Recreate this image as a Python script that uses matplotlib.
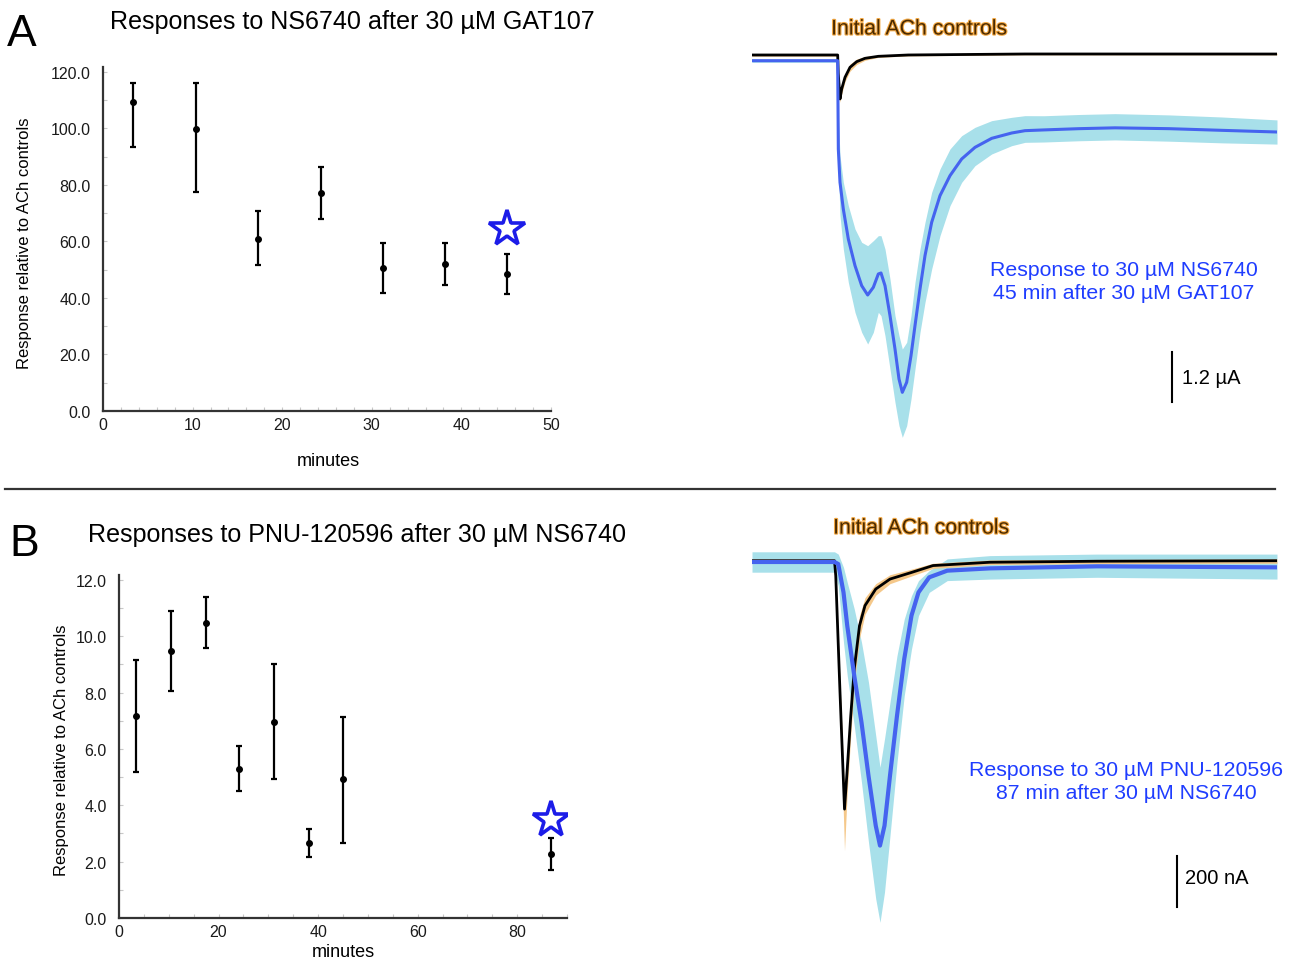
import matplotlib.pyplot as plt
import matplotlib.patheffects as pe
from matplotlib.lines import Line2D
from matplotlib.ticker import MultipleLocator, FormatStrFormatter

plt.rcParams['font.family'] = ['Liberation Sans', 'DejaVu Sans']

W, H = 1297, 962

# ---------- panel A: NS6740 after GAT107 ----------
a_minutes = [3.4, 10.4, 17.3, 24.3, 31.2, 38.2, 45.1]
a_mean = [109.2, 99.8, 61.0, 77.2, 50.7, 52.0, 48.6]
a_hi = [116.2, 116.2, 70.8, 86.4, 59.6, 59.3, 55.7]
a_lo = [93.4, 77.6, 51.5, 67.8, 41.6, 44.4, 41.5]
a_star = (45.1, 64.4)

# traces (time in s, current in uA)
a_ach_t = [0, 34.27, 34.5, 35.2, 35.87, 37.2, 39.2, 41.87, 45.2, 50.5, 62.5, 109.2, 210]
a_ach_i = [0.137, 0.137, -0.30, -0.918, -0.679, -0.399, -0.159, -0.023, 0.057, 0.105, 0.137, 0.161, 0.16]
a_ach_lo = [0.11, 0.11, -0.35, -1.00, -0.80, -0.50, -0.25, -0.09, 0.01, 0.08, 0.115, 0.14, 0.14]
a_ach_hi = [0.165, 0.165, -0.25, -0.84, -0.58, -0.31, -0.08, 0.04, 0.10, 0.13, 0.16, 0.18, 0.18]

a_ns_t = [0, 34.27, 34.53, 35.2, 36.53, 38.53, 41.2, 43.87, 46.27, 48.53, 50.53, 51.6, 53.2, 55.2,
          57.2, 58.8, 60.13, 61.87, 63.6, 65.2, 67.2, 69.2, 71.87, 75.2, 79.2, 83.87, 89.2, 95.87,
          103.87, 109.2, 116.8, 130.8, 145.2, 166.8, 188.0, 210.0]
a_ns_i = [0.0, 0.0, -2.117, -2.917, -3.56, -4.276, -4.915, -5.395, -5.619, -5.435, -5.115, -5.091,
          -5.395, -6.114, -6.914, -7.633, -7.953, -7.713, -7.074, -6.354, -5.475, -4.675, -3.876,
          -3.236, -2.757, -2.357, -2.078, -1.862, -1.734, -1.678, -1.66, -1.63, -1.61, -1.63, -1.67, -1.71]
a_ns_hi = [0.041, 0.041, -1.318, -2.277, -2.917, -3.476, -4.036, -4.356, -4.436, -4.316, -4.196, -4.196,
           -4.516, -5.235, -6.114, -6.594, -6.914, -6.754, -6.114, -5.315, -4.516, -3.876, -3.156,
           -2.597, -2.117, -1.798, -1.598, -1.438, -1.358, -1.318, -1.32, -1.29, -1.27, -1.30, -1.35, -1.42]
a_ns_lo = [-0.039, -0.039, -2.517, -3.716, -4.516, -5.315, -6.035, -6.514, -6.794, -6.514, -6.035, -6.114,
           -6.594, -7.393, -8.193, -8.752, -9.032, -8.752, -8.113, -7.393, -6.514, -5.795, -4.995,
           -4.196, -3.476, -2.917, -2.517, -2.237, -2.038, -1.958, -1.95, -1.92, -1.90, -1.93, -1.97, -2.00]

# ---------- panel B: PNU-120596 after NS6740 ----------
b_minutes = [3.4, 10.5, 17.4, 24.2, 31.2, 38.2, 45.1, 86.8]
b_mean = [7.16, 9.47, 10.48, 5.30, 6.96, 2.66, 4.94, 2.26]
b_hi = [9.14, 10.88, 11.38, 6.10, 9.00, 3.17, 7.14, 2.84]
b_lo = [5.17, 8.07, 9.59, 4.50, 4.93, 2.17, 2.67, 1.70]
b_star = (86.8, 3.47)

# traces (time in s, current in nA)
b_ach_t = [0, 33.0, 33.5, 35.2, 37.0, 38.1, 39.5, 40.9, 43.0, 45.2, 49.5, 55.2, 63.8, 72.4, 95.2, 138, 210]
b_ach_i = [5, 5, -54, -511, -969, -812, -603, -420, -250, -171, -106, -67, -41, -14, -1, 3, 5]
b_ach_lo = [-5, -5, -70, -560, -1132, -900, -680, -480, -300, -205, -130, -85, -55, -25, -10, -6, -5]
b_ach_hi = [12, 12, -40, -470, -900, -740, -540, -370, -210, -140, -85, -50, -28, -5, 8, 10, 12]

b_pnu_t = [0, 33.0, 34.5, 36.6, 38.1, 40.9, 43.8, 46.6, 49.5, 51.2, 53.0, 55.2, 58.0, 60.9, 63.8,
           66.6, 70.9, 78.1, 95.2, 138.0, 210.0]
b_pnu_i = [0, 0, -8, -119, -250, -446, -629, -838, -1034, -1112, -1034, -838, -603, -380, -210,
           -119, -60, -34, -25, -17, -21]
b_pnu_hi = [40, 40, 31, -21, -80, -184, -315, -472, -681, -805, -694, -550, -367, -224, -132,
            -73, -34, 12, 25, 31, 31]
b_pnu_lo = [-40, -40, -93, -315, -446, -642, -864, -1099, -1321, -1413, -1295, -1073, -786, -524, -341,
            -210, -119, -73, -67, -60, -67]

BAND_BLUE = '#a8e0ea'
LINE_BLUE = '#4563ef'
ORANGE = '#f5c88a'
TEXT_BLUE = '#1f3dff'
STAR_BLUE = '#1c1ce8'


def box(x0, y0, x1, y1):
    # pixel box (origin top-left) -> figure rect
    return [x0 / W, 1 - y1 / H, (x1 - x0) / W, (y1 - y0) / H]


def scatter_panel(ax, x, m, lo, hi, star, xlim, ylim, xmaj, xmin, ymaj, ymin):
    yerr = [[a - b for a, b in zip(m, lo)], [b - a for a, b in zip(m, hi)]]
    ax.errorbar(x, m, yerr=yerr, fmt='o', color='black', ms=4,
                elinewidth=1.6, capsize=2.5, capthick=1.6)
    ax.plot([star[0]], [star[1]], marker='*', ms=27, mfc='white',
            mec=STAR_BLUE, mew=2.6, linestyle='none')
    ax.set_xlim(*xlim)
    ax.set_ylim(*ylim)
    ax.xaxis.set_major_locator(MultipleLocator(xmaj))
    ax.xaxis.set_minor_locator(MultipleLocator(xmin))
    ax.yaxis.set_major_locator(MultipleLocator(ymaj))
    ax.yaxis.set_minor_locator(MultipleLocator(ymin))
    ax.yaxis.set_major_formatter(FormatStrFormatter('%.1f'))
    for s in ['top', 'right']:
        ax.spines[s].set_visible(False)
    for s in ['left', 'bottom']:
        ax.spines[s].set_color('#333333')
        ax.spines[s].set_linewidth(1.6)
    ax.tick_params(which='both', direction='in', length=3, width=0.8,
                   color='#c8c8c8', labelcolor='#1a1a1a', labelsize=11.5)
    ax.tick_params(axis='y', pad=9)
    ax.tick_params(axis='x', pad=4)


def trace_panel(ax, ach_t, ach_i, ach_lo, ach_hi, drug_t, drug_i, drug_lo, drug_hi, lw_drug):
    ax.fill_between(drug_t, drug_lo, drug_hi, color=BAND_BLUE, lw=0, zorder=1)
    ax.fill_between(ach_t, ach_lo, ach_hi, color=ORANGE, lw=0, zorder=2)
    ax.plot(ach_t, ach_i, color='black', lw=2, zorder=3)
    ax.plot(drug_t, drug_i, color=LINE_BLUE, lw=lw_drug, zorder=4)
    ax.set_xlim(0, 210)
    ax.axis('off')


ach_glow = [pe.withStroke(linewidth=1.6, foreground='#f2a844')]

fig = plt.figure(figsize=(W / 100, H / 100), dpi=100)

# ---- A ----
axA = fig.add_axes(box(103, 68, 551, 412))
scatter_panel(axA, a_minutes, a_mean, a_lo, a_hi, a_star, (0, 50), (0, 121.7), 10, 2, 20, 10)
fig.text(7 / W, 1 - 35 / H, 'A', fontsize=32, va='center', ha='left')
fig.text(110 / W, 1 - 22 / H, 'Responses to NS6740 after 30 µM GAT107', fontsize=18.1, va='center', ha='left')
fig.text(25 / W, 1 - 243 / H, 'Response relative to ACh controls', fontsize=12, rotation=90,
         va='center', ha='center')
fig.text(328 / W, 1 - 462 / H, 'minutes', fontsize=13, va='center', ha='center')

trA = fig.add_axes(box(752, 20, 1277, 450))
trace_panel(trA, a_ach_t, a_ach_i, a_ach_lo, a_ach_hi, a_ns_t, a_ns_i, a_ns_lo, a_ns_hi, 2.2)
trA.set_ylim(-9.312, 1.0)
trA.plot([168, 168], [-6.985, -8.185], color='black', lw=1.5)
trA.text(172, -7.59, '1.2 µA', fontsize=14.5, va='center', ha='left')
trA.text(66.8, 0.76, 'Initial ACh controls', fontsize=15.3, color='#4a2a00', ha='center', va='center',
         path_effects=ach_glow)
trA.text(148.8, -5.283, 'Response to 30 µM NS6740\n45 min after 30 µM GAT107', fontsize=15.3,
         color=TEXT_BLUE, ha='center', va='center', linespacing=1.28)

# divider
fig.add_artist(Line2D([5 / W, 1275 / W], [1 - 490 / H, 1 - 490 / H], color='#333333', lw=1.6))

# ---- B ----
axB = fig.add_axes(box(119, 576, 567, 919))
scatter_panel(axB, b_minutes, b_mean, b_lo, b_hi, b_star, (0, 90), (0, 12.17), 20, 5, 2, 1)
fig.text(9 / W, 1 - 545 / H, 'B', fontsize=32, va='center', ha='left')
fig.text(88 / W, 1 - 535 / H, 'Responses to PNU-120596 after 30 µM NS6740', fontsize=18.1, va='center', ha='left')
fig.text(62 / W, 1 - 750 / H, 'Response relative to ACh controls', fontsize=12, rotation=90,
         va='center', ha='center')
fig.text(343 / W, 1 - 953 / H, 'minutes', fontsize=13, va='center', ha='center')

trB = fig.add_axes(box(752, 515, 1277, 950))
trace_panel(trB, b_ach_t, b_ach_i, b_ach_lo, b_ach_hi, b_pnu_t, b_pnu_i, b_pnu_lo, b_pnu_hi, 3)
trB.set_ylim(-1517.6, 188.2)
trB.plot([170, 170], [-1153, -1353], color='black', lw=1.5)
trB.text(173.2, -1239, '200 nA', fontsize=14.5, va='center', ha='left')
trB.text(67.6, 133, 'Initial ACh controls', fontsize=15.3, color='#4a2a00', ha='center', va='center',
         path_effects=ach_glow)
trB.text(149.6, -858.8, 'Response to 30 µM PNU-120596\n87 min after 30 µM NS6740', fontsize=15.3,
         color=TEXT_BLUE, ha='center', va='center', linespacing=1.28)

fig.savefig('out.png', dpi=100)
